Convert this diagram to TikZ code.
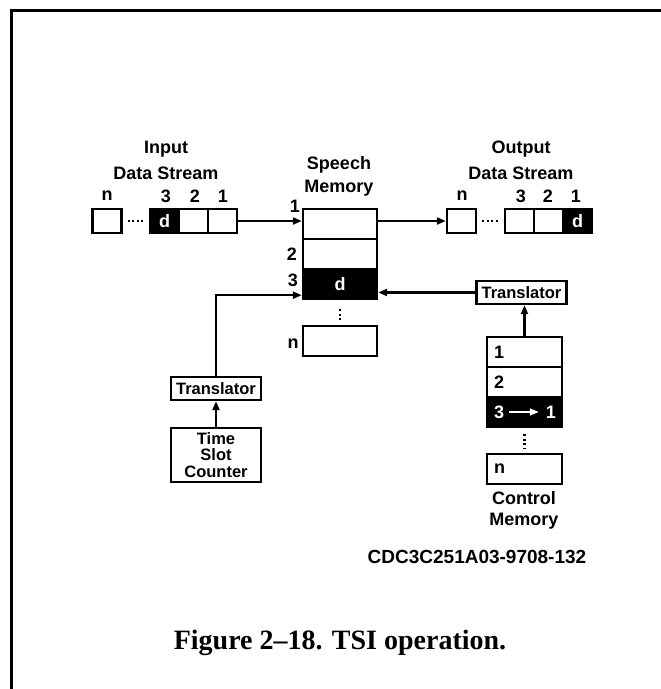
\documentclass[tikz,border=0pt]{standalone}
\usepackage{fontspec}
\setmainfont{Liberation Sans}
\newfontfamily\capfont[Ligatures=TeX]{Liberation Serif}
\usetikzlibrary{arrows.meta}
\newcommand{\lblfont}{\fontsize{18}{16}\selectfont\bfseries}
\newcommand{\boxfont}{\fontsize{16.5}{16}\selectfont\bfseries}

\begin{document}
\begin{tikzpicture}[x=1pt, y=-1pt,
cell/.style={draw, line width=2.4pt, minimum width=29, minimum height=24, inner sep=0pt, font=\lblfont},
dark/.style={fill=black, text=white},
slot/.style={cell, minimum width=74, minimum height=30},
ctrl/.style={cell, minimum width=75, minimum height=30},
tbox/.style={draw, line width=2.4pt, minimum width=90, minimum height=23, inner sep=0pt, font=\boxfont, align=center},
lbl/.style={font=\lblfont, inner sep=0pt, align=center},
arrow/.style={-{Triangle[length=9pt,width=7pt]}, line width=2.2pt},
dotline/.style={line width=2.2pt, dash pattern=on 2pt off 2.5pt}
]
\useasboundingbox (0,0) rectangle (661,689);
\draw[line width=3pt] (11,689) -- (11,10) -- (661,10);

% input stream
\node[lbl] (inhead) at (166,149) {Input};
\node[lbl] (inhead2) at (166,173) {Data Stream};
\node[cell] (inN) at (107,221) {};
\node[cell, dark] (in3) at (164.5,221) {d};
\node[cell] (in2) at (193.5,221) {};
\node[cell] (in1) at (222.5,221) {};
\draw[dotline, shorten <=5pt, shorten >=5pt] (inN) -- (in3);
\node[lbl] at (107,196) {n};
\node[lbl] at (166,196) {3};
\node[lbl] at (195,196) {2};
\node[lbl] at (223,196) {1};

% speech memory
\node[lbl] (smhead) at (339,165) {Speech};
\node[lbl] (smhead2) at (339,188) {Memory};
\node[slot] (s1) at (340,224) {};
\node[slot] (s2) at (340,254) {};
\node[slot, dark] (s3) at (340,284) {d};
\node[slot] (sn) at (340,341) {};
\draw[dotline, shorten <=9pt, shorten >=3pt] (s3) -- (sn);
\node[lbl] at (295,206) {1};
\node[lbl] at (292,254) {2};
\node[lbl] at (293,280) {3};
\node[lbl] at (293,344) {n};

% output stream
\node[lbl] (outhead) at (521,149) {Output};
\node[lbl] (outhead2) at (521,173) {Data Stream};
\node[cell] (outN) at (461.5,221) {};
\node[cell] (out3) at (519.5,221) {};
\node[cell] (out2) at (548.5,221) {};
\node[cell, dark] (out1) at (577.5,221) {d};
\draw[dotline, shorten <=5pt, shorten >=5pt] (outN) -- (out3);
\node[lbl] at (462,196) {n};
\node[lbl] at (521,196) {3};
\node[lbl] at (548,196) {2};
\node[lbl] at (576,196) {1};

\draw[arrow] (in1.east) -- (in1.east -| s1.west);
\draw[arrow] (in1.east -| s1.east) -- (outN.west);

% time slot side
\node[tbox] (trL) at (216,388.5) {Translator};
\node[tbox, minimum height=54, font=\fontsize{16.5}{16.5}\selectfont\bfseries] (tsc) at (216,455) {Time\\Slot\\Counter};
\draw[arrow] (tsc.north) -- (trL.south);
\draw[arrow] (trL.north) |- ([yshift=5pt]s3.south west);

% control side
\node[tbox] (trR) at (521.5,292.5) {Translator};
\node[ctrl] (c1) at (524.5,352) {};
\node[ctrl] (c2) at (524.5,382) {};
\node[ctrl, dark] (c3) at (524.5,412) {};
\node[ctrl] (cn) at (524.5,469) {};
\draw[dotline, shorten <=6pt, shorten >=5pt] (c3) -- (cn);
\node[lbl, anchor=west] at ([xshift=8pt]c1.west) {1};
\node[lbl, anchor=west] at ([xshift=8pt]c2.west) {2};
\node[lbl, anchor=west, text=white] (c3from) at ([xshift=8pt]c3.west) {3};
\node[lbl, anchor=east, text=white] (c3to) at ([xshift=-7pt]c3.east) {1};
\draw[arrow, white, line width=1.6pt, shorten <=5pt, shorten >=7pt] (c3from) -- (c3to);
\node[lbl, anchor=west] at ([xshift=8pt]cn.west) {n};
\node[lbl] (cmhead) at (524,498) {Control};
\node[lbl] (cmhead2) at (524,521) {Memory};
\draw[arrow] (c1.north) -- (c1.north |- trR.south);
\draw[arrow] (trR.west) -- (trR.west -| s3.east);

\node[lbl, font=\fontsize{19}{19}\selectfont\bfseries] (code) at (477,557) {CDC3C251A03-9708-132};
\node[font=\capfont\bfseries\fontsize{28}{28}\selectfont] (caption) at (340,643) {Figure 2--18. TSI operation.};
\end{tikzpicture}
\end{document}
